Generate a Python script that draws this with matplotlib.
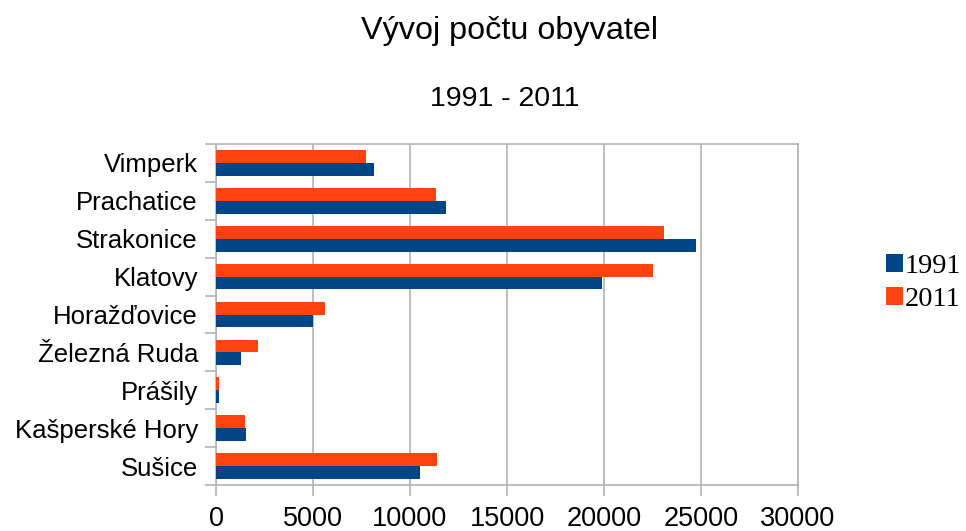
import numpy as np
import matplotlib.pyplot as plt
from matplotlib.ticker import FixedLocator

# data, bottom to top
mesta = ["Sušice", "Kašperské Hory", "Prášily", "Železná Ruda", "Horažďovice",
         "Klatovy", "Strakonice", "Prachatice", "Vimperk"]
obyv_1991 = [10510, 1545, 150, 1290, 4990, 19900, 24740, 11860, 8140]
obyv_2011 = [11390, 1495, 160, 2165, 5620, 22530, 23090, 11340, 7730]
xticks = [0, 5000, 10000, 15000, 20000, 25000, 30000]

modra = "#004586"
oranz = "#ff420e"
seda = "#b3b3b3"

fig = plt.figure(figsize=(9.66, 5.31), dpi=100)
ax = fig.add_axes([216/966, 1-485/531, (798-216)/966, (485-144)/531])

y = np.arange(len(mesta))
h = 0.34
ax.barh(y - h/2, obyv_1991, height=h, color=modra, label="1991", zorder=3)
ax.barh(y + h/2, obyv_2011, height=h, color=oranz, label="2011", zorder=3)

ax.set_xlim(0, 30000)
ax.set_ylim(-0.5, len(mesta) - 0.5)
ax.set_xticks(xticks)
ax.set_xticklabels([str(v) for v in xticks], fontsize=19.5, family="Liberation Sans")
ax.set_yticks(y)
ax.set_yticklabels(mesta, fontsize=18.5, family="Liberation Sans")
ax.yaxis.set_minor_locator(FixedLocator(np.arange(-0.5, len(mesta), 1)))
ax.tick_params(axis="y", which="major", length=0, pad=13)
ax.tick_params(axis="y", which="minor", length=8, color=seda, width=1.2)
ax.tick_params(axis="x", length=8, color=seda, width=1.2, pad=7)
ax.grid(axis="x", color=seda, linewidth=1.2, zorder=0)
for s in ax.spines.values():
    s.set_color(seda)
    s.set_linewidth(1.2)

fig.text(0.527, 0.941, "Vývoj počtu obyvatel", ha="center", va="center",
         fontsize=23.3, family="Liberation Sans")
fig.text(0.523, 0.814, "1991 - 2011", ha="center", va="center",
         fontsize=20.5, family="Liberation Sans")

leg = fig.legend(loc="center left", bbox_to_anchor=(886/966, 1-283/531),
                 frameon=False, prop={"family": "Liberation Serif", "size": 20.5},
                 handlelength=0.6, handleheight=0.6, handletextpad=0.05,
                 labelspacing=0.3, borderaxespad=0, borderpad=0)

plt.savefig("out.png", dpi=100)
